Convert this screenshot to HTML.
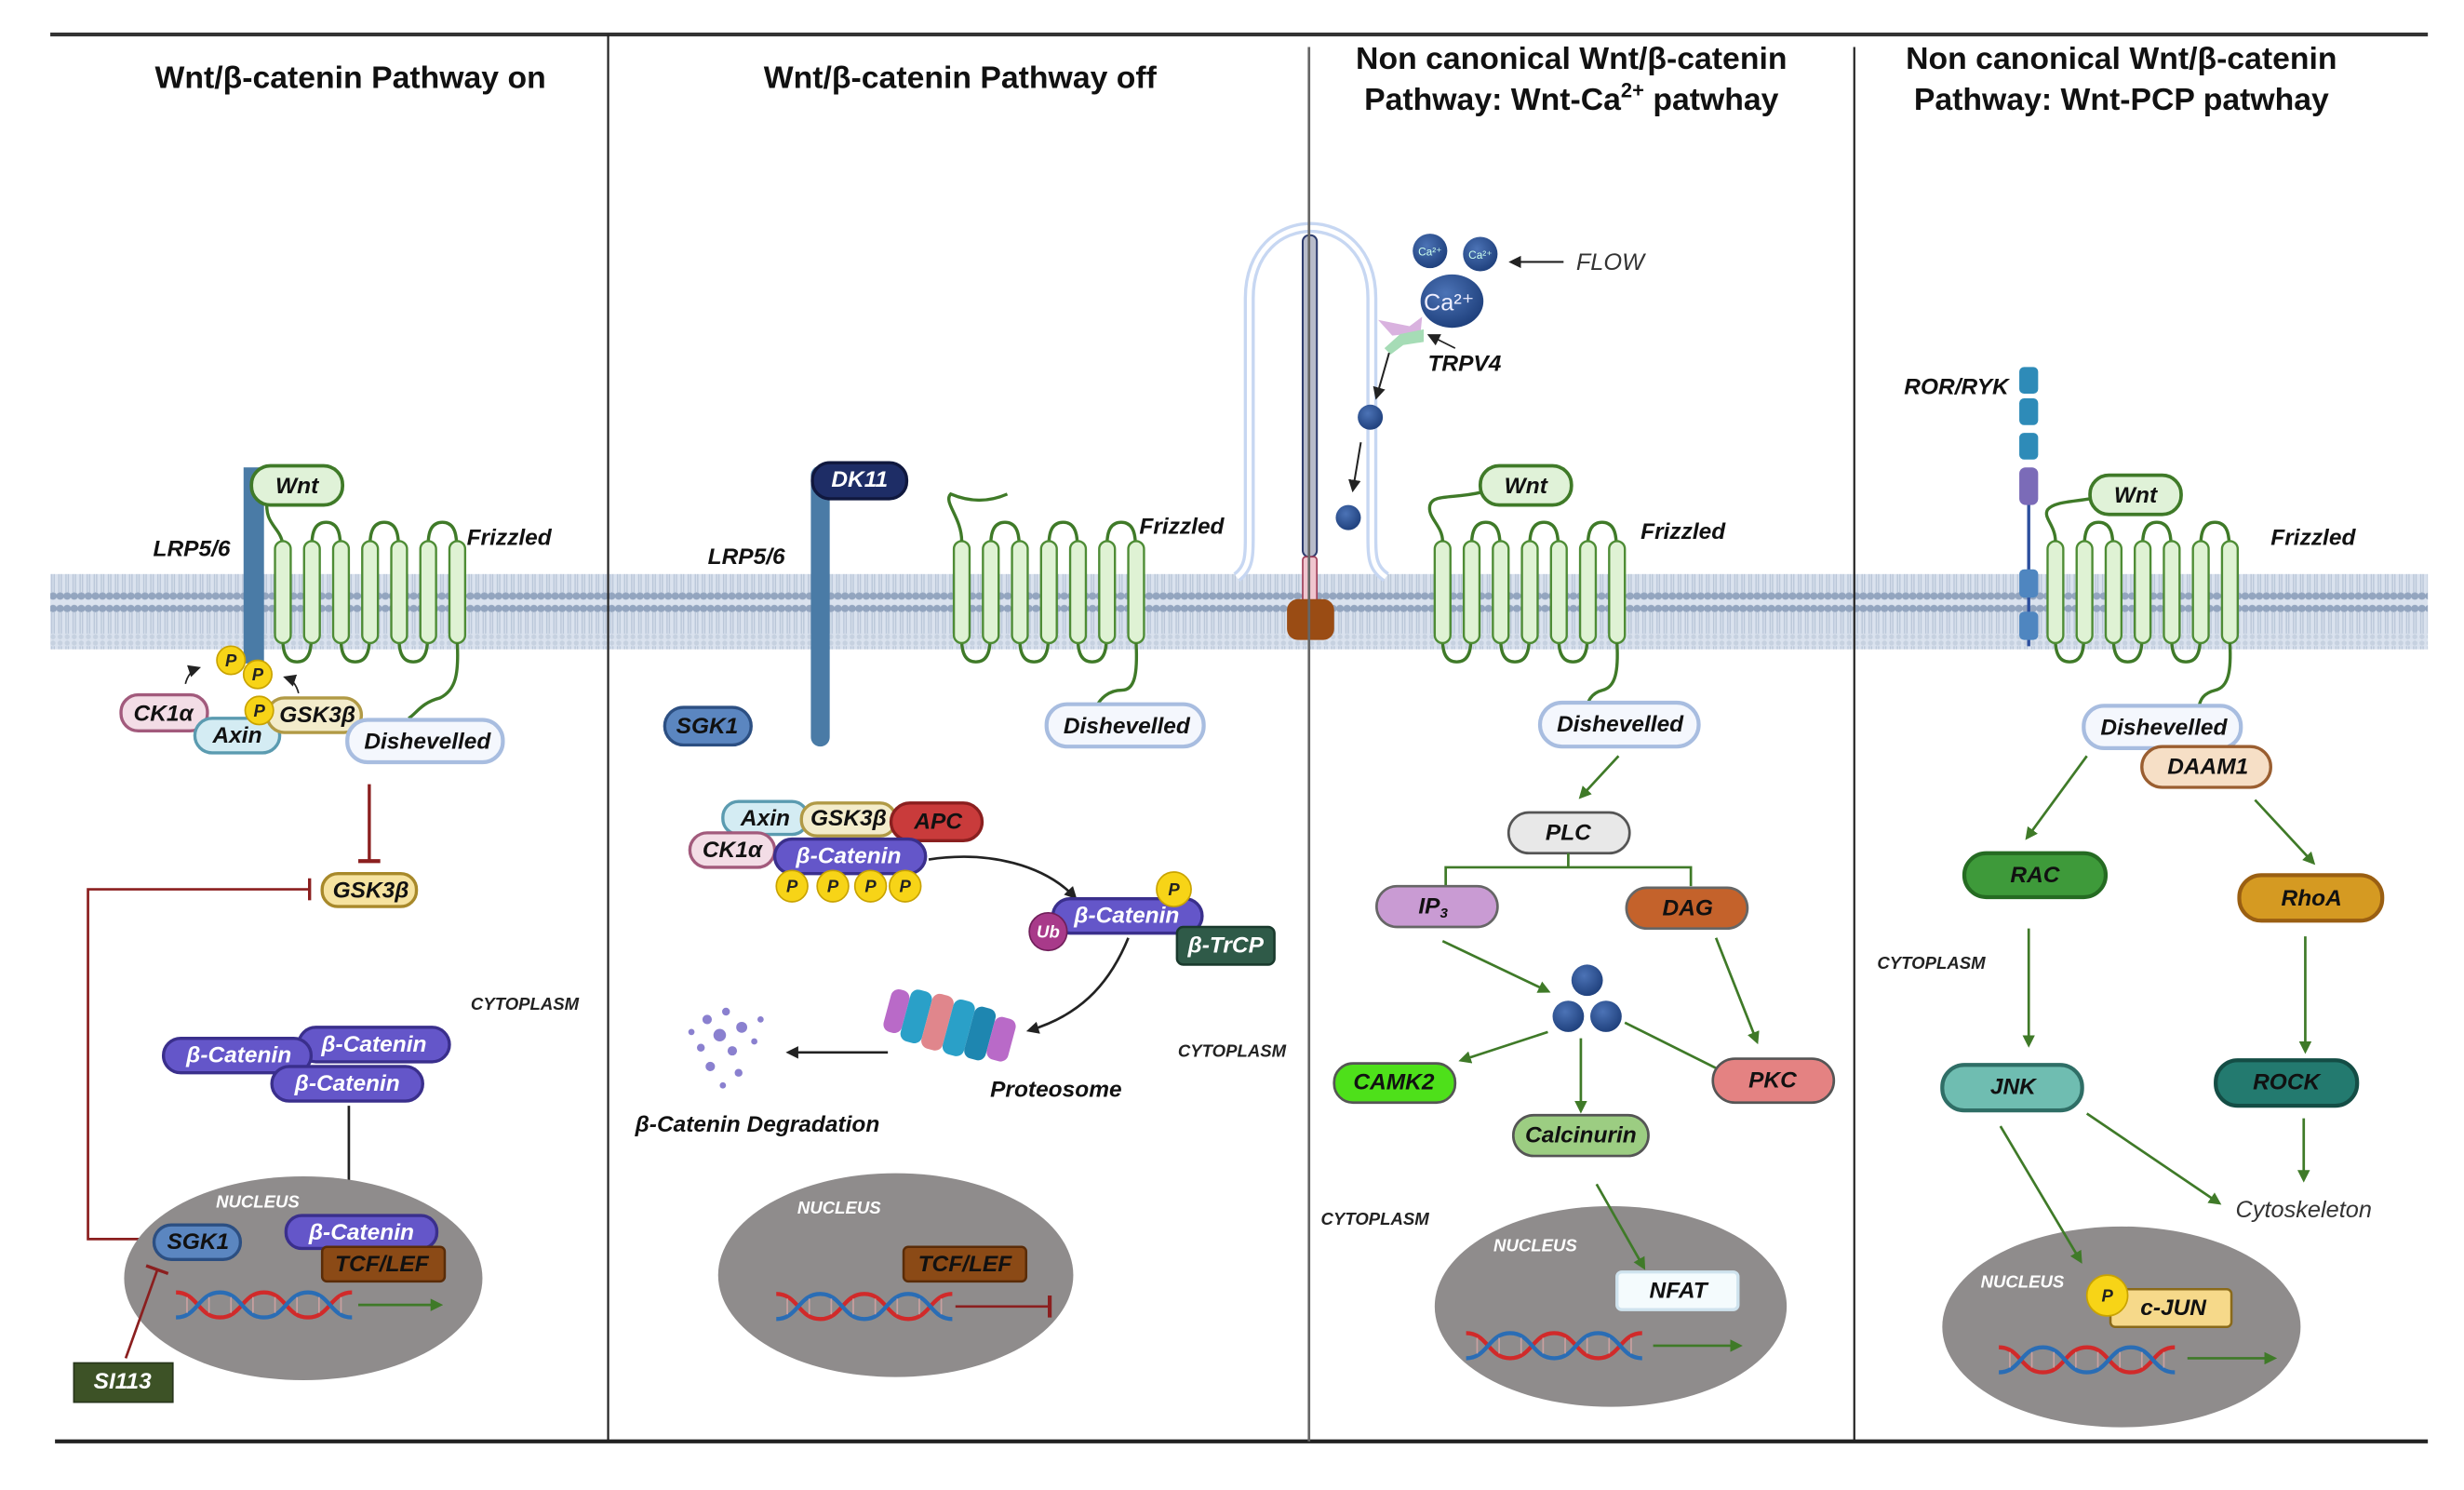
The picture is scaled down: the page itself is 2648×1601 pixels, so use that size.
<!DOCTYPE html>
<html><head><meta charset="utf-8"><style>
html,body{margin:0;padding:0;background:#fff;}
svg{display:block}
text{font-family:"Liberation Sans",sans-serif;}
.t{font-weight:bold;font-size:20px;fill:#111;text-anchor:middle}
.l{font-style:italic;font-weight:bold;font-size:14.5px;fill:#111;text-anchor:middle;dominant-baseline:central}
.s{font-style:italic;font-weight:bold;font-size:11px;fill:#222;text-anchor:middle;dominant-baseline:central}
.w{font-style:italic;font-weight:bold;font-size:11px;fill:#fff;text-anchor:middle;dominant-baseline:central}
.lw{font-style:italic;font-weight:bold;font-size:14.5px;fill:#fff;text-anchor:middle;dominant-baseline:central}
.ga{stroke:#3f7a28;stroke-width:1.6;fill:none;marker-end:url(#ga)}
.ka{stroke:#222;stroke-width:1.6;fill:none;marker-end:url(#ka)}
</style></head><body>
<svg width="2648" height="1601" viewBox="0 0 1568 950" preserveAspectRatio="none" xmlns="http://www.w3.org/2000/svg">
<defs>
<marker id="ga" markerWidth="8" markerHeight="8" refX="6" refY="4" orient="auto" markerUnits="userSpaceOnUse"><path d="M0,0 L8,4 L0,8 z" fill="#3f7a28"/></marker>
<marker id="ka" markerWidth="8" markerHeight="8" refX="6" refY="4" orient="auto" markerUnits="userSpaceOnUse"><path d="M0,0 L8,4 L0,8 z" fill="#222"/></marker>
<pattern id="mem" width="4.5" height="48" patternUnits="userSpaceOnUse">
<rect width="4.5" height="48" fill="#dae2ee"/>
<circle cx="2.25" cy="4" r="2.4" fill="#93a5bf"/>
<circle cx="2.25" cy="44" r="2.4" fill="#93a5bf"/>
<line x1="1.5" y1="6" x2="1.5" y2="20" stroke="#b9c6d8" stroke-width="0.8"/>
<line x1="3" y1="6" x2="3" y2="20" stroke="#b9c6d8" stroke-width="0.8"/>
<line x1="1.5" y1="28" x2="1.5" y2="42" stroke="#b9c6d8" stroke-width="0.8"/>
<line x1="3" y1="28" x2="3" y2="42" stroke="#b9c6d8" stroke-width="0.8"/>
<circle cx="2.25" cy="22" r="1.6" fill="#c6d1e0"/>
<circle cx="2.25" cy="26" r="1.6" fill="#c6d1e0"/>
</pattern>
<g id="fz" fill="#dff2d4" stroke="#4e8c35" stroke-width="1.4">
<path d="M23.5,2 q0,-14 9,-14 q9,0 9,14 M60.5,2 q0,-14 9,-14 q9,0 9,14 M97.5,2 q0,-14 9,-14 q9,0 9,14" fill="none" stroke="#3f7a28" stroke-width="2"/>
<path d="M5,63 q0,14 9,14 q9,0 9,-14 M42,63 q0,14 9,14 q9,0 9,-14 M79,63 q0,14 9,14 q9,0 9,-14" fill="none" stroke="#3f7a28" stroke-width="2"/>
<rect x="0" y="0" width="10" height="65" rx="5"/>
<rect x="18.5" y="0" width="10" height="65" rx="5"/>
<rect x="37" y="0" width="10" height="65" rx="5"/>
<rect x="55.5" y="0" width="10" height="65" rx="5"/>
<rect x="74" y="0" width="10" height="65" rx="5"/>
<rect x="92.5" y="0" width="10" height="65" rx="5"/>
<rect x="111" y="0" width="10" height="65" rx="5"/>
</g>
<g id="dna">
<path d="M0,-8 C14,-8 14,8 28,8 C42,8 42,-8 56,-8 C70,-8 70,8 84,8 C98,8 98,-8 112,-8" fill="none" stroke="#d12a2a" stroke-width="2.6"/>
<path d="M0,8 C14,8 14,-8 28,-8 C42,-8 42,8 56,8 C70,8 70,-8 84,-8 C98,-8 98,8 112,8" fill="none" stroke="#2a6db5" stroke-width="2.6"/>
<path d="M7,-5v10M21,-5v10M35,-5v10M49,-5v10M63,-5v10M77,-5v10M91,-5v10M105,-5v10" stroke="#c9a0a0" stroke-width="1"/>
</g>
<radialGradient id="ca" cx="0.4" cy="0.35" r="0.7"><stop offset="0" stop-color="#4c73b6"/><stop offset="1" stop-color="#1d3e7a"/></radialGradient>
</defs>

<rect x="32" y="366" width="1513" height="48" fill="url(#mem)"/>
<line x1="32" y1="22" x2="1545" y2="22" stroke="#333" stroke-width="2.5"/>
<line x1="35" y1="919" x2="1545" y2="919" stroke="#222" stroke-width="2.5"/>
<line x1="387" y1="22" x2="387" y2="919" stroke="#222" stroke-width="1.3"/>
<line x1="1180" y1="30" x2="1180" y2="919" stroke="#222" stroke-width="1.3"/>

<text class="t" x="223" y="56">Wnt/β-catenin Pathway on</text>
<text class="t" x="611" y="56">Wnt/β-catenin Pathway off</text>
<text class="t" x="1000" y="44">Non canonical Wnt/β-catenin</text>
<text class="t" x="1000" y="70">Pathway: Wnt-Ca<tspan font-size="13" dy="-8">2+</tspan><tspan dy="8"> patwhay</tspan></text>
<text class="t" x="1350" y="44">Non canonical Wnt/β-catenin</text>
<text class="t" x="1350" y="70">Pathway: Wnt-PCP patwhay</text>

<!-- PANEL 1 -->
<rect x="155" y="298" width="13" height="125" fill="#4a7ba6"/>
<text class="l" x="122" y="350">LRP5/6</text>
<path d="M170,318 C168,335 178,335 180,347" fill="none" stroke="#3f7a28" stroke-width="2"/>
<rect x="160" y="297" width="58" height="25" rx="12" fill="#e0f2d8" stroke="#3f7a28" stroke-width="2.2"/>
<text class="l" x="189" y="310">Wnt</text>
<use href="#fz" x="175" y="345"/>
<text class="l" x="324" y="343">Frizzled</text>
<path d="M291,410 C292,430 290,440 280,445 C268,448 265,455 260,458" fill="none" stroke="#3f7a28" stroke-width="2"/>
<rect x="77" y="443" width="55" height="23" rx="11" fill="#f3dde6" stroke="#a25a7c" stroke-width="2"/>
<text class="l" x="104" y="455">CK1α</text>
<rect x="124" y="458" width="54" height="22" rx="11" fill="#d4ecf3" stroke="#5b9bb0" stroke-width="2"/>
<text class="l" x="151" y="469">Axin</text>
<rect x="170" y="445" width="60" height="22" rx="11" fill="#f3eccb" stroke="#b19a45" stroke-width="2"/>
<text class="l" x="202" y="456">GSK3β</text>
<circle cx="147" cy="421" r="9" fill="#f7d417" stroke="#c9a300"/><text class="s" x="147" y="421" font-size="8">P</text>
<circle cx="164" cy="430" r="9" fill="#f7d417" stroke="#c9a300"/><text class="s" x="164" y="430" font-size="8">P</text>
<circle cx="165" cy="453" r="9" fill="#f7d417" stroke="#c9a300"/><text class="s" x="165" y="453" font-size="8">P</text>
<path d="M118,436 q2,-8 8,-10" stroke="#222" stroke-width="1" fill="none" marker-end="url(#ka)"/>
<path d="M190,442 q-2,-8 -8,-10" stroke="#222" stroke-width="1" fill="none" marker-end="url(#ka)"/>
<rect x="221" y="459" width="99" height="27" rx="13" fill="#f4f7fd" stroke="#a8bde0" stroke-width="2.5"/>
<text class="l" x="272" y="473">Dishevelled</text>
<line x1="235" y1="500" x2="235" y2="549" stroke="#8b1f1f" stroke-width="2"/>
<line x1="228" y1="549" x2="242" y2="549" stroke="#8b1f1f" stroke-width="2.5"/>
<rect x="205" y="557" width="60" height="21" rx="10" fill="#f6e3a0" stroke="#a8892a" stroke-width="2"/>
<text class="l" x="236" y="568">GSK3β</text>
<path d="M100,790 L56,790 L56,567 L197,567" fill="none" stroke="#8b1f1f" stroke-width="1.6"/>
<line x1="197" y1="560" x2="197" y2="574" stroke="#8b1f1f" stroke-width="2"/>
<text class="s" x="334" y="640" font-size="10">CYTOPLASM</text>
<rect x="190" y="655" width="96" height="22" rx="11" fill="#6456c9" stroke="#3a2f8c" stroke-width="2"/>
<text class="lw" x="238" y="666">β-Catenin</text>
<rect x="104" y="662" width="94" height="22" rx="11" fill="#6456c9" stroke="#3a2f8c" stroke-width="2"/>
<text class="lw" x="152" y="673">β-Catenin</text>
<rect x="173" y="680" width="96" height="22" rx="11" fill="#6456c9" stroke="#3a2f8c" stroke-width="2"/>
<text class="lw" x="221" y="691">β-Catenin</text>
<line x1="222" y1="705" x2="222" y2="768" class="ka"/>
<ellipse cx="193" cy="815" rx="114" ry="65" fill="#8f8c8c"/>
<text class="w" x="164" y="766" font-size="10">NUCLEUS</text>
<rect x="182" y="775" width="96" height="21" rx="10" fill="#6456c9" stroke="#3a2f8c" stroke-width="2"/>
<text class="lw" x="230" y="786">β-Catenin</text>
<rect x="205" y="795" width="78" height="22" rx="3" fill="#8b4a16" stroke="#5a2c08" stroke-width="1.5"/>
<text class="l" x="243" y="806">TCF/LEF</text>
<rect x="98" y="781" width="55" height="22" rx="11" fill="#5b86c0" stroke="#2c4f82" stroke-width="2"/>
<text class="l" x="126" y="792">SGK1</text>
<use href="#dna" x="112" y="832"/>
<line x1="228" y1="832" x2="280" y2="832" class="ga"/>
<line x1="80" y1="866" x2="100" y2="810" stroke="#8b1f1f" stroke-width="1.6"/>
<line x1="93" y1="807" x2="107" y2="812" stroke="#8b1f1f" stroke-width="2"/>
<rect x="47" y="869" width="63" height="25" fill="#3d5226" stroke="#26341a"/>
<text class="lw" x="78" y="881">SI113</text>

<!-- PANEL 2 -->
<path d="M522,303 L522,470" stroke="#4a7ba6" stroke-width="12" stroke-linecap="round"/>
<text class="l" x="475" y="355">LRP5/6</text>
<rect x="517" y="295" width="60" height="23" rx="11" fill="#1e2d66" stroke="#10183e" stroke-width="2"/>
<text class="lw" x="547" y="306">DK11</text>
<use href="#fz" x="607" y="345"/>
<path d="M612,345 C612,330 600,320 605,315 C612,318 625,322 641,315" fill="none" stroke="#3f7a28" stroke-width="2"/>
<text class="l" x="752" y="336">Frizzled</text>
<path d="M723,410 C724,430 722,440 714,440 C705,440 700,446 698,450" fill="none" stroke="#3f7a28" stroke-width="2"/>
<rect x="423" y="451" width="55" height="24" rx="12" fill="#5b86c0" stroke="#2c4f82" stroke-width="2"/>
<text class="l" x="450" y="463">SGK1</text>
<rect x="666" y="449" width="100" height="27" rx="13" fill="#f4f7fd" stroke="#a8bde0" stroke-width="2.5"/>
<text class="l" x="717" y="463">Dishevelled</text>
<rect x="460" y="511" width="54" height="21" rx="10" fill="#d4ecf3" stroke="#5b9bb0" stroke-width="2"/>
<text class="l" x="487" y="522">Axin</text>
<rect x="510" y="512" width="60" height="21" rx="10" fill="#f3eccb" stroke="#b19a45" stroke-width="2"/>
<text class="l" x="540" y="522">GSK3β</text>
<rect x="567" y="512" width="58" height="24" rx="12" fill="#c93b3b" stroke="#8a1f1f" stroke-width="2"/>
<text class="l" x="597" y="524">APC</text>
<rect x="439" y="531" width="54" height="22" rx="11" fill="#f3dde6" stroke="#a25a7c" stroke-width="2"/>
<text class="l" x="466" y="542">CK1α</text>
<rect x="493" y="535" width="96" height="22" rx="11" fill="#6456c9" stroke="#3a2f8c" stroke-width="2"/>
<text class="lw" x="540" y="546">β-Catenin</text>
<g fill="#f7d417" stroke="#c9a300">
<circle cx="504" cy="565" r="10"/><circle cx="530" cy="565" r="10"/><circle cx="554" cy="565" r="10"/><circle cx="576" cy="565" r="10"/></g>
<text class="s" x="504" y="565" font-size="8">P</text><text class="s" x="530" y="565" font-size="8">P</text><text class="s" x="554" y="565" font-size="8">P</text><text class="s" x="576" y="565" font-size="8">P</text>
<path d="M591,548 C630,542 665,552 684,572" class="ka"/>
<rect x="670" y="573" width="95" height="22" rx="11" fill="#6456c9" stroke="#3a2f8c" stroke-width="2"/>
<text class="lw" x="717" y="584">β-Catenin</text>
<circle cx="747" cy="567" r="11" fill="#f7d417" stroke="#c9a300"/><text class="s" x="747" y="567" font-size="10">P</text>
<circle cx="667" cy="594" r="12" fill="#a83a8a" stroke="#701f5a"/><text class="w" x="667" y="594" font-size="10">Ub</text>
<rect x="749" y="591" width="62" height="24" rx="4" fill="#2f5a48" stroke="#1a3a2d" stroke-width="1.5"/>
<text class="lw" x="780" y="603">β-TrCP</text>
<path d="M718,598 C705,630 685,648 655,657" class="ka"/>
<g transform="rotate(15 605 655)">
<rect x="563" y="640" width="12" height="28" rx="5" fill="#b96ac8"/>
<rect x="575" y="637" width="14" height="34" rx="5" fill="#2aa0c8"/>
<rect x="589" y="636" width="14" height="36" rx="5" fill="#e0868c"/>
<rect x="603" y="636" width="14" height="36" rx="5" fill="#2aa0c8"/>
<rect x="617" y="637" width="14" height="34" rx="5" fill="#1e86b0"/>
<rect x="631" y="640" width="14" height="28" rx="5" fill="#b96ac8"/>
</g>
<text class="l" x="672" y="695" font-size="13">Proteosome</text>
<line x1="565" y1="671" x2="502" y2="671" class="ka"/>
<g fill="#8a80cf">
<circle cx="450" cy="650" r="3"/><circle cx="462" cy="645" r="2.5"/><circle cx="472" cy="655" r="3.5"/><circle cx="458" cy="660" r="4"/><circle cx="446" cy="668" r="2.5"/><circle cx="466" cy="670" r="3"/><circle cx="480" cy="664" r="2"/><circle cx="452" cy="680" r="3"/><circle cx="470" cy="684" r="2.5"/><circle cx="440" cy="658" r="2"/><circle cx="484" cy="650" r="2"/><circle cx="460" cy="692" r="2"/></g>
<text class="l" x="482" y="717">β-Catenin Degradation</text>
<text class="s" x="784" y="670" font-size="10">CYTOPLASM</text>
<ellipse cx="570" cy="813" rx="113" ry="65" fill="#8f8c8c"/>
<text class="w" x="534" y="770" font-size="10">NUCLEUS</text>
<rect x="575" y="795" width="78" height="22" rx="3" fill="#8b4a16" stroke="#5a2c08" stroke-width="1.5"/>
<text class="l" x="614" y="806">TCF/LEF</text>
<use href="#dna" x="494" y="833"/>
<line x1="608" y1="833" x2="668" y2="833" stroke="#8b1f1f" stroke-width="1.6"/>
<line x1="668" y1="826" x2="668" y2="840" stroke="#8b1f1f" stroke-width="2.5"/>

<!-- PANEL 3 -->
<path d="M787,368 C795,362 795,355 795,340 L795,190 C795,130 873,130 873,190 L873,340 C873,355 873,362 882,368" fill="none" stroke="#c7d7f2" stroke-width="7"/>
<path d="M787,368 C795,362 795,355 795,340 L795,190 C795,130 873,130 873,190 L873,340 C873,355 873,362 882,368" fill="none" stroke="#fff" stroke-width="3"/>
<rect x="829" y="150" width="9" height="205" rx="4" fill="#b8bccb" stroke="#2d3c6e" stroke-width="1.2"/>
<rect x="829" y="355" width="9" height="32" rx="2" fill="#f0c6cf" stroke="#a0405a" stroke-width="1"/>
<rect x="819" y="382" width="30" height="26" rx="7" fill="#9a4c14"/>
<line x1="833" y1="30" x2="833" y2="919" stroke="#666" stroke-width="1.6"/>
<circle cx="910" cy="160" r="11" fill="url(#ca)"/><text x="910" y="163" font-size="7" fill="#cfe" text-anchor="middle">Ca²⁺</text>
<circle cx="942" cy="162" r="11" fill="url(#ca)"/><text x="942" y="165" font-size="7" fill="#cfe" text-anchor="middle">Ca²⁺</text>
<ellipse cx="924" cy="192" rx="20" ry="17" fill="url(#ca)"/><text x="922" y="198" font-size="15" fill="#eef" text-anchor="middle">Ca²⁺</text>
<line x1="995" y1="167" x2="962" y2="167" stroke="#222" stroke-width="1.3" marker-end="url(#ka)"/>
<text x="1003" y="172" font-size="15" font-style="italic" fill="#333">FLOW</text>
<path d="M877,204 L897,208 L905,202 L904,212 L886,214 Z" fill="#d9b2df"/>
<path d="M881,222 L891,213 L906,210 L906,218 L893,220 L885,226 Z" fill="#a6dcb6"/>
<line x1="926" y1="222" x2="910" y2="214" stroke="#222" stroke-width="1" marker-end="url(#ka)"/>
<text class="l" x="932" y="232" font-size="14">TRPV4</text>
<line x1="884" y1="225" x2="876" y2="253" stroke="#222" stroke-width="1.2" marker-end="url(#ka)"/>
<circle cx="872" cy="266" r="8" fill="url(#ca)"/>
<line x1="866" y1="282" x2="861" y2="312" stroke="#222" stroke-width="1.2" marker-end="url(#ka)"/>
<circle cx="858" cy="330" r="8" fill="url(#ca)"/>
<use href="#fz" x="913" y="345"/>
<path d="M918,345 C918,335 908,330 910,322 C912,315 925,318 942,314" fill="none" stroke="#3f7a28" stroke-width="2"/>
<rect x="942" y="297" width="58" height="25" rx="12" fill="#e0f2d8" stroke="#3f7a28" stroke-width="2.2"/>
<text class="l" x="971" y="310">Wnt</text>
<text class="l" x="1071" y="339">Frizzled</text>
<path d="M1029,410 C1030,428 1028,438 1020,440 C1012,442 1010,448 1010,452" fill="none" stroke="#3f7a28" stroke-width="2"/>
<rect x="980" y="448" width="101" height="28" rx="14" fill="#f4f7fd" stroke="#a8bde0" stroke-width="2.5"/>
<text class="l" x="1031" y="462">Dishevelled</text>
<line x1="1030" y1="482" x2="1006" y2="508" class="ga"/>
<rect x="960" y="518" width="77" height="26" rx="13" fill="#e8e8e8" stroke="#555" stroke-width="1.6"/>
<text class="l" x="998" y="531">PLC</text>
<path d="M998,544 V553 M920,565 V553 H1076 V565" fill="none" stroke="#3f7a28" stroke-width="1.6"/>
<rect x="876" y="565" width="77" height="26" rx="13" fill="#c99bd3" stroke="#666" stroke-width="1.6"/>
<text class="l" x="912" y="578">IP<tspan font-size="9" dy="4">3</tspan></text>
<rect x="1035" y="566" width="77" height="26" rx="13" fill="#c4622b" stroke="#666" stroke-width="1.6"/>
<text class="l" x="1074" y="579">DAG</text>
<line x1="918" y1="600" x2="985" y2="632" class="ga"/>
<line x1="1092" y1="598" x2="1118" y2="664" class="ga"/>
<circle cx="1010" cy="625" r="10" fill="url(#ca)"/><circle cx="998" cy="648" r="10" fill="url(#ca)"/><circle cx="1022" cy="648" r="10" fill="url(#ca)"/>
<line x1="985" y1="658" x2="930" y2="676" class="ga"/>
<line x1="1006" y1="662" x2="1006" y2="708" class="ga"/>
<line x1="1034" y1="652" x2="1100" y2="685" class="ga"/>
<rect x="849" y="678" width="77" height="25" rx="12" fill="#4ee01a" stroke="#555" stroke-width="1.6"/>
<text class="l" x="887" y="690">CAMK2</text>
<rect x="1090" y="675" width="77" height="28" rx="14" fill="#e48282" stroke="#555" stroke-width="1.6"/>
<text class="l" x="1128" y="689">PKC</text>
<rect x="963" y="711" width="86" height="26" rx="13" fill="#9ccd82" stroke="#555" stroke-width="1.6"/>
<text class="l" x="1006" y="724">Calcinurin</text>
<text class="s" x="875" y="777" font-size="10">CYTOPLASM</text>
<ellipse cx="1025" cy="833" rx="112" ry="64" fill="#8f8c8c"/>
<text class="w" x="977" y="794" font-size="10">NUCLEUS</text>
<line x1="1016" y1="755" x2="1046" y2="808" class="ga"/>
<rect x="1029" y="811" width="77" height="24" rx="3" fill="#f4fbfd" stroke="#cfe3ee" stroke-width="2"/>
<text class="l" x="1068" y="823">NFAT</text>
<use href="#dna" x="933" y="858"/>
<line x1="1052" y1="858" x2="1107" y2="858" class="ga"/>

<!-- PANEL 4 -->
<line x1="1291" y1="300" x2="1291" y2="412" stroke="#2c4f9e" stroke-width="2"/>
<rect x="1285" y="234" width="12" height="17" rx="3" fill="#2e8bb8"/>
<rect x="1285" y="254" width="12" height="17" rx="3" fill="#2e8bb8"/>
<rect x="1285" y="276" width="12" height="17" rx="3" fill="#2e8bb8"/>
<rect x="1285" y="298" width="12" height="24" rx="4" fill="#7b6bb8"/>
<rect x="1285" y="363" width="12" height="18" rx="3" fill="#4f86c0"/>
<rect x="1285" y="390" width="12" height="18" rx="3" fill="#4f86c0"/>
<text class="l" x="1245" y="247">ROR/RYK</text>
<use href="#fz" x="1303" y="345"/>
<path d="M1308,345 C1308,335 1300,330 1303,325 C1307,320 1318,320 1330,318" fill="none" stroke="#3f7a28" stroke-width="2"/>
<rect x="1330" y="303" width="58" height="25" rx="12" fill="#e0f2d8" stroke="#3f7a28" stroke-width="2.2"/>
<text class="l" x="1359" y="316">Wnt</text>
<text class="l" x="1472" y="343">Frizzled</text>
<path d="M1419,410 C1420,428 1418,438 1410,440 C1402,442 1400,446 1399,452" fill="none" stroke="#3f7a28" stroke-width="2"/>
<rect x="1326" y="450" width="100" height="27" rx="13" fill="#f4f7fd" stroke="#a8bde0" stroke-width="2.5"/>
<text class="l" x="1377" y="464">Dishevelled</text>
<rect x="1363" y="476" width="82" height="26" rx="13" fill="#f6dfc6" stroke="#9a5e30" stroke-width="2"/>
<text class="l" x="1405" y="489">DAAM1</text>
<line x1="1328" y1="482" x2="1290" y2="534" class="ga"/>
<line x1="1435" y1="510" x2="1472" y2="550" class="ga"/>
<rect x="1250" y="544" width="90" height="28" rx="14" fill="#3e9a3a" stroke="#256b22" stroke-width="2.5"/>
<text class="l" x="1295" y="558">RAC</text>
<rect x="1425" y="558" width="91" height="29" rx="14" fill="#d59a22" stroke="#9a5f12" stroke-width="2.5"/>
<text class="l" x="1471" y="573">RhoA</text>
<text class="s" x="1229" y="614" font-size="10">CYTOPLASM</text>
<line x1="1291" y1="592" x2="1291" y2="666" class="ga"/>
<line x1="1467" y1="597" x2="1467" y2="670" class="ga"/>
<rect x="1236" y="679" width="89" height="29" rx="14" fill="#6fbdb1" stroke="#2f6e66" stroke-width="2.5"/>
<text class="l" x="1281" y="693">JNK</text>
<rect x="1410" y="676" width="90" height="29" rx="14" fill="#237a6f" stroke="#144d45" stroke-width="2.5"/>
<text class="l" x="1455" y="690">ROCK</text>
<line x1="1466" y1="713" x2="1466" y2="752" class="ga"/>
<line x1="1328" y1="710" x2="1412" y2="767" class="ga"/>
<text x="1466" y="776" font-size="15" font-style="italic" fill="#333" text-anchor="middle">Cytoskeleton</text>
<ellipse cx="1350" cy="846" rx="114" ry="64" fill="#8f8c8c"/>
<line x1="1273" y1="718" x2="1324" y2="804" class="ga"/>
<text class="w" x="1287" y="817" font-size="10">NUCLEUS</text>
<rect x="1343" y="822" width="77" height="24" rx="3" fill="#f6d98a" stroke="#8a6a1a" stroke-width="1.5"/>
<text class="l" x="1383" y="834">c-JUN</text>
<circle cx="1341" cy="826" r="13" fill="#f7d417" stroke="#c9a300"/><text class="s" x="1341" y="826" font-size="11">P</text>
<use href="#dna" x="1272" y="867"/>
<line x1="1392" y1="866" x2="1447" y2="866" class="ga"/>
</svg>
</body></html>
